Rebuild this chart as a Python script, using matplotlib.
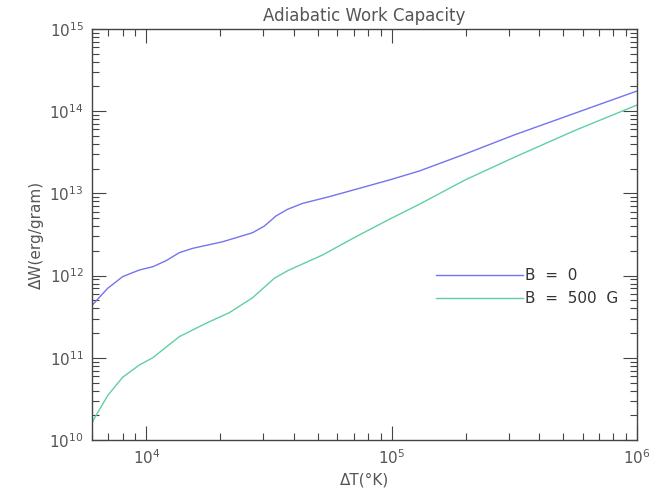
import numpy as np
import matplotlib
matplotlib.use("Agg")
import matplotlib.pyplot as plt
from matplotlib.ticker import LogLocator, LogFormatterMathtext, NullFormatter

# values (log10 of dT and dW)
logT_b0 = [3.776, 3.842, 3.903, 3.971, 4.026, 4.080, 4.134, 4.189, 4.311, 4.433,
           4.481, 4.528, 4.576, 4.637, 4.745, 4.854, 4.990, 5.112, 5.300, 5.500, 6.000]
logW_b0 = [11.63, 11.845, 11.987, 12.068, 12.108, 12.181, 12.279, 12.332, 12.412, 12.522,
           12.603, 12.725, 12.807, 12.879, 12.960, 13.050, 13.163, 13.272, 13.480, 13.712, 14.246]

logT_b500 = [3.776, 3.795, 3.842, 3.903, 3.971, 4.026, 4.134, 4.243, 4.338, 4.433, 4.521,
             4.576, 4.718, 4.854, 4.990, 5.112, 5.300, 5.500, 5.750, 6.000]
logW_b500 = [10.20, 10.30, 10.54, 10.763, 10.912, 11.001, 11.257, 11.420, 11.549, 11.731, 11.967,
             12.060, 12.251, 12.473, 12.685, 12.867, 13.165, 13.440, 13.770, 14.075]

labels = ["B  =  0", "B  =  500  G"]
colors = ["#7474ee", "#60d0a0"]
gray = "#555555"

fig = plt.figure(figsize=(6.65, 4.99), dpi=100)
ax = fig.add_axes([0.1383, 0.1182, 0.8197, 0.8237])

l1, = ax.plot(10 ** np.array(logT_b0), 10 ** np.array(logW_b0), color=colors[0], lw=1.0)
l2, = ax.plot(10 ** np.array(logT_b500), 10 ** np.array(logW_b500), color=colors[1], lw=1.0)

ax.set_xscale("log")
ax.set_yscale("log")
ax.set_xlim(6000, 1e6)
ax.set_ylim(1e10, 1e15)

ax.xaxis.set_major_locator(LogLocator(base=10, numticks=10))
ax.xaxis.set_minor_locator(LogLocator(base=10, subs=np.arange(2, 10), numticks=20))
ax.yaxis.set_major_locator(LogLocator(base=10, numticks=10))
ax.yaxis.set_minor_locator(LogLocator(base=10, subs=np.arange(2, 10), numticks=20))
ax.xaxis.set_major_formatter(LogFormatterMathtext())
ax.yaxis.set_major_formatter(LogFormatterMathtext())
ax.xaxis.set_minor_formatter(NullFormatter())
ax.yaxis.set_minor_formatter(NullFormatter())

ax.tick_params(which="both", direction="in", top=True, right=True, colors="#444444",
               labelcolor=gray, labelsize=11)
ax.tick_params(which="major", length=10, width=0.8, pad=6)
ax.tick_params(which="minor", length=5, width=0.8)
for s in ax.spines.values():
    s.set_color("#444444")
    s.set_linewidth(1.0)

ax.set_title("Adiabatic Work Capacity", color=gray, fontsize=12, pad=6)
ax.set_xlabel("ΔT(°K)", color=gray, fontsize=11)
ax.set_ylabel("ΔW(erg/gram)", color=gray, fontsize=11)

leg = ax.legend([l1, l2], labels, loc="center left", bbox_to_anchor=(0.605, 0.372),
                frameon=False, handlelength=5.75, handletextpad=0.1, fontsize=11,
                labelspacing=0.55)
for t in leg.get_texts():
    t.set_color("#333333")

fig.savefig("out.png", dpi=100)
